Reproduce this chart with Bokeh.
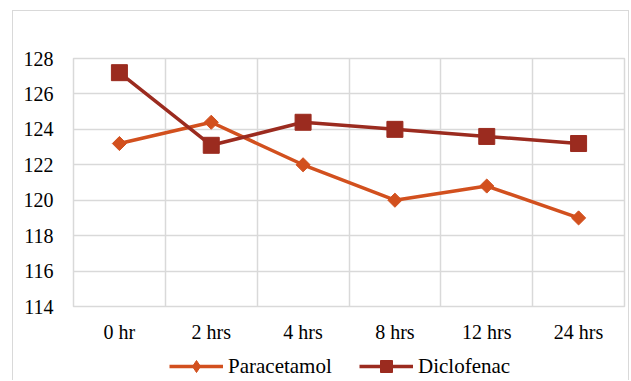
import numpy as np
from bokeh.plotting import figure
from bokeh.layouts import column
from bokeh.models import Range1d, FixedTicker, Legend, LegendItem
from bokeh.embed import file_html
from bokeh.resources import INLINE

# Time points and mean values per treatment
categories = ["0 hr", "2 hrs", "4 hrs", "8 hrs", "12 hrs", "24 hrs"]
paracetamol = [123.2, 124.4, 122.0, 120.0, 120.8, 119.0]
diclofenac = [127.2, 123.1, 124.4, 124.0, 123.6, 123.2]
y_ticks = [114, 116, 118, 120, 122, 124, 126, 128]

PARA_COLOR = "#D2501E"
DICLO_COLOR = "#9B2B1F"
GRID_COLOR = "#D9D9D9"
FONT = "Liberation Serif"

x = [i + 0.5 for i in range(len(categories))]


def add_series(fig, para_marker="square", para_angle=np.pi / 4):
    """Draw both treatment series on fig and return their renderers."""
    l1 = fig.line(x, paracetamol, line_color=PARA_COLOR, line_width=3.5)
    m1 = fig.scatter(x, paracetamol, marker=para_marker, angle=para_angle,
                     size=10, fill_color=PARA_COLOR, line_color=PARA_COLOR)
    l2 = fig.line(x, diclofenac, line_color=DICLO_COLOR, line_width=3.5)
    m2 = fig.scatter(x, diclofenac, marker="square", size=16,
                     fill_color=DICLO_COLOR, line_color=DICLO_COLOR)
    return (l1, m1), (l2, m2)


# Main chart
p = figure(width=615, height=335, output_backend="svg", toolbar_location=None,
           x_range=Range1d(0, len(categories)), y_range=Range1d(114, 128),
           min_border_left=60, min_border_right=4, min_border_top=47,
           min_border_bottom=40)

p.background_fill_color = "white"
p.border_fill_color = "white"
p.outline_line_color = GRID_COLOR
p.outline_line_width = 1.5

p.xaxis.ticker = FixedTicker(ticks=x)
p.xaxis.major_label_overrides = {v: c for v, c in zip(x, categories)}
p.yaxis.ticker = FixedTicker(ticks=y_ticks)
p.axis.axis_line_color = None
p.axis.major_tick_line_color = None
p.axis.minor_tick_line_color = None
p.axis.major_tick_in = 0
p.axis.major_tick_out = 0
p.axis.minor_tick_in = 0
p.axis.minor_tick_out = 0
p.axis.major_label_text_font = FONT
p.axis.major_label_text_font_size = "20px"
p.axis.major_label_text_font_style = "normal"
p.axis.major_label_text_color = "#000000"
p.xaxis.major_label_standoff = 14
p.yaxis.major_label_standoff = 20

# Vertical grid lines between categories, horizontal ones at the ticks
p.xgrid.ticker = FixedTicker(ticks=list(range(len(categories) + 1)))
p.ygrid.ticker = FixedTicker(ticks=y_ticks)
p.grid.grid_line_color = GRID_COLOR
p.grid.grid_line_width = 1.5

add_series(p)

# Legend strip: same series drawn outside its visible ranges, legend only.
# Its frame lines up with the main chart's frame in the column.
leg = figure(width=615, height=34, output_backend="svg", toolbar_location=None,
             x_range=Range1d(100, 101), y_range=Range1d(0, 1),
             x_axis_type=None, y_axis_type=None, min_border=0)
leg.outline_line_color = None
leg.border_fill_color = "white"
leg.background_fill_color = "white"
para_r, diclo_r = add_series(leg, para_marker="diamond", para_angle=0)


def legend_entry(label, renderers, x_pos, box_h):
    # marker size in a legend follows the glyph box height
    return Legend(items=[LegendItem(label=label, renderers=list(renderers))],
                  orientation="horizontal", location=(x_pos, 14 - box_h / 2),
                  glyph_width=54, glyph_height=box_h, label_height=box_h,
                  label_standoff=5, padding=0, margin=0,
                  border_line_color=None, background_fill_alpha=0,
                  label_text_font=FONT, label_text_font_size="21px",
                  label_text_color="#000000")


leg.add_layout(legend_entry("Paracetamol", para_r, 96, 30), "center")
leg.add_layout(legend_entry("Diclofenac", diclo_r, 286, 30), "center")

layout = column(p, leg, spacing=0, margin=(10, 0, 0, 12),
                styles={"border-top": "1.5px solid #D9D9D9",
                        "border-left": "1.5px solid #D9D9D9",
                        "border-right": "1.5px solid #D9D9D9"})

open("out.html", "w").write(file_html(layout, INLINE))
